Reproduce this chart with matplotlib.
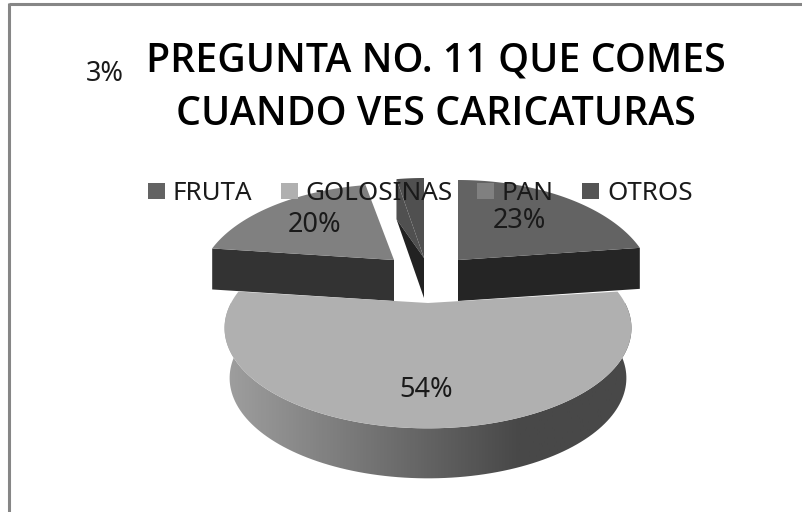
import numpy as np
import matplotlib
matplotlib.use('Agg')
import matplotlib.pyplot as plt
from matplotlib.colors import LinearSegmentedColormap
from matplotlib.patches import Polygon, Rectangle

categories = ['FRUTA', 'GOLOSINAS', 'PAN', 'OTROS']
values = [23, 54, 20, 3]
title_lines = ['PREGUNTA NO. 11 QUE COMES', 'CUANDO VES CARICATURAS']

colors = ['#636363', '#b0b0b0', '#808080', '#505050']
face_colors = ['#252525', '#b0b0b0', '#333333', '#222222']
legend_colors = ['#636363', '#b0b0b0', '#808080', '#555555']

# apex of each exploded slice, in pixels, and its radii
apex = [(458, 260), (428, 303), (394, 260), (424, 258)]
radii = [(189, 100), (197, 94), (189, 95), (183, 100)]
depth = [41, 50, 41, 40]
persp = 0.25

label_pos = [(519, 221), (426, 390), (315, 225), (105, 74)]
legend_sq = [148, 281, 477, 582]
legend_txt = [173, 305, 502, 607]


def rim(i, a0, a1, n=120):
    # a0, a1 clockwise from the top, degrees
    t = np.radians(np.linspace(a0, a1, n))
    u, v = np.sin(t), np.cos(t)
    s = 1 + persp * v
    x = apex[i][0] + radii[i][0] * u / s
    y = apex[i][1] - radii[i][1] * v / s
    return np.column_stack([x, y])


fig = plt.figure(figsize=(8.03, 5.12), dpi=100)
ax = fig.add_axes([0, 0, 1, 1])
ax.set_xlim(0, 803)
ax.set_ylim(512, 0)
ax.axis('off')

# only the top and left edges of the frame are in the crop
ax.plot([9, 803], [4, 4], color='#868686', lw=2.2, solid_capstyle='butt')
ax.plot([9, 9], [3, 512], color='#868686', lw=2.2, solid_capstyle='butt')

edges = np.cumsum([0] + values) * 3.6
wall_cmap = LinearSegmentedColormap.from_list('wall', ['#a0a0a0', '#484848'])

# back slices first, the big one overlaps them
for i in [3, 0, 2, 1]:
    a0, a1 = edges[i], edges[i + 1]
    c = np.array(apex[i], dtype=float)
    d = np.array([0, depth[i]])
    arc = rim(i, a0, a1)
    if i == 1:
        low = rim(i, 90, 270) + d
        low[:, 0] = c[0] + (low[:, 0] - c[0]) * 0.975
        wall = np.vstack([rim(i, 90, 270), low[::-1]])
        p = Polygon(wall, fc='none', ec='none')
        ax.add_patch(p)
        # light on the left, flat dark from about x=520
        grad = np.clip(np.linspace(0, 1.4, 256), 0, 1).reshape(1, -1)
        im = ax.imshow(grad, extent=(220, 640, 512, 0), cmap=wall_cmap, aspect='auto', zorder=2)
        im.set_clip_path(p)
        ax.set_xlim(0, 803)
        ax.set_ylim(512, 0)
    elif i == 0:
        tip = arc[-1]
        ax.add_patch(Polygon([c, tip, tip + d, c + d], fc=face_colors[i], ec='none', zorder=2))
    elif i == 2:
        tip = arc[0]
        ax.add_patch(Polygon([c, tip, tip + d, c + d], fc=face_colors[i], ec='none', zorder=2))
    elif i == 3:
        tip = arc[0]
        ax.add_patch(Polygon([c, tip, tip + d], fc=colors[i], ec='none', zorder=2))
        ax.add_patch(Polygon([c, tip + d, c + d], fc=face_colors[i], ec='none', zorder=2))
    ax.add_patch(Polygon(np.vstack([c, arc]), fc=colors[i], ec='none', zorder=2))

ty = [72, 125]
for s, y in zip(title_lines, ty):
    ax.text(436, y, s, ha='center', va='baseline', fontsize=28.3, family='Open Sans',
            weight='semibold', color='black', zorder=5)

for i, name in enumerate(categories):
    ax.add_patch(Rectangle((legend_sq[i], 183), 17, 16, fc=legend_colors[i], ec='none', zorder=4))
    ax.text(legend_txt[i], 200, name, ha='left', va='baseline', fontsize=18.7,
            family='Noto Sans', color='#1a1a1a', zorder=5)

for val, (x, y) in zip(values, label_pos):
    ax.text(x, y, f'{val}%', ha='center', va='center', fontsize=19.5,
            family='Noto Sans', color='#1a1a1a', zorder=5)

fig.savefig('out.png', dpi=100)
